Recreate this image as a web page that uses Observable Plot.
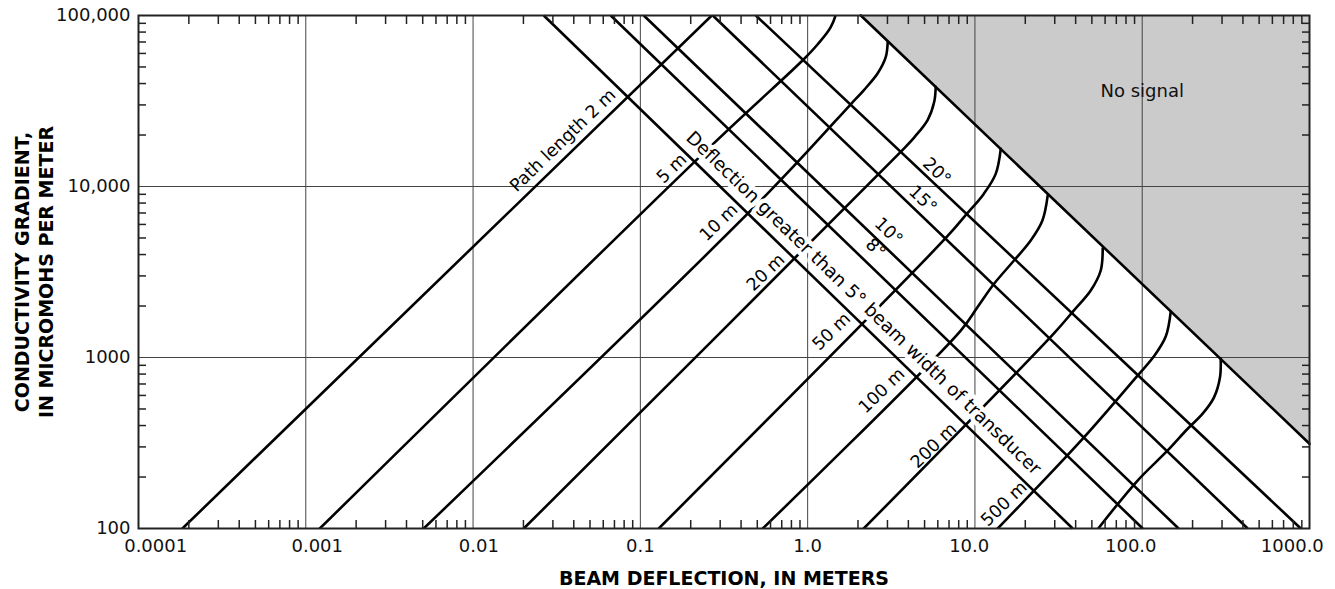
<!DOCTYPE html>
<html>
<head>
<meta charset="utf-8">
<script src="https://cdn.jsdelivr.net/npm/d3@7"></script>
<script src="https://cdn.jsdelivr.net/npm/@observablehq/plot@0.6"></script>
<style>
  body { margin: 0; background: #fff; }
  #chart svg { display: block; }
</style>
</head>
<body>
<div id="chart"></div>
<script>
// ---------- axis ticks ----------
const xTickValues = [0.0001, 0.001, 0.01, 0.1, 1, 10, 100, 1000];
const xTickLabels = ["0.0001", "0.001", "0.01", "0.1", "1.0", "10.0", "100.0", "1000.0"];
const yTickValues = [100, 1000, 10000, 100000];
const yTickLabels = ["100", "1000", "10,000", "100,000"];
const xGrid = [0.001, 0.01, 0.1, 1, 10, 100];
const yGrid = [1000, 10000];

// ---------- path-length curves (beam deflection m, conductivity gradient) ----------
const path2m = [[0.000183, 100], [0.2672, 100000]];
const path5m = [[0.001213, 100], [0.2747, 17880], [0.9478, 55480], [1.149, 67920], [1.374, 85420], [1.503, 108900], [1.534, 133300]];
const path10m = [[0.00507, 100], [0.5773, 9112], [1.81, 30250], [2.164, 36530], [2.624, 45930], [2.929, 57010], [3.011, 69770]];
const path20m = [[0.0201, 100], [3.601, 15950], [4.367, 19520], [5.223, 24540], [5.711, 31280], [5.83, 38290]];
const path50m = [[0.1288, 100], [6.785, 5069], [8.933, 6911], [11.29, 9051], [13.31, 11850], [14.27, 16600]];
const path100m = [[0.539, 100], [8.225, 1437], [10.35, 1967], [13.01, 2697], [17.13, 3693], [21.55, 4835], [25.32, 6331], [27.24, 8869]];
const path200m = [[2.164, 100], [29.58, 1380], [38.96, 1882], [49.23, 2464], [56.49, 3227], [58.06, 4340]];
const path500m = [[13.69, 100], [44.7, 339.6], [92.7, 773], [117.2, 1012], [138.2, 1326], [148.1, 1857]];
const path1000m = [[54.6, 100], [93.6, 190.2], [141.5, 285], [186.3, 381.9], [229, 467.6], [268.7, 584.8], [291.7, 765.7], [294.5, 985.4]];

const pathLabels = ["Path length 2 m", "5 m", "10 m", "20 m", "50 m", "100 m", "200 m", "500 m"];
const pathLabelX = [0.0344, 0.154, 0.294, 0.562, 1.39, 2.77, 5.67, 14.9];
const pathLabelY = [18620, 12760, 6164, 3142, 1418, 640, 305, 139.5];

// ---------- beam-angle lines (x at top = 100,000 and at bottom = 100) ----------
const angleNames = ["5°", "8°", "10°", "15°", "20°"];
const angleTopX = [0.02646, 0.0665, 0.1048, 0.271, 0.49];
const angleBottomX = [38.4, 100.7, 165, 427, 887];

const angleLabels = ["8°", "10°", "15°", "20°"];
const angleLabelX = [2.55, 3.05, 4.88, 5.91];
const angleLabelY = [4340, 5460, 8400, 12250];

const beamLabel = ["Deflection greater than 5° beam width of transducer"];
const beamLabelX = [2.16];
const beamLabelY = [2080];

// ---------- no-signal boundary ----------
const noSignalEdge = [[2.08, 100000], [1000, 313]];
const noSignalText = ["No signal"];
const noSignalX = [100];
const noSignalY = [36000];

// ---------- derived tables ----------
const decadesX = [0.0001, 0.001, 0.01, 0.1, 1, 10, 100];
const decadesY = [100, 1000, 10000];
const mult = [2, 3, 4, 5, 6, 7, 8, 9];
const xMinor = decadesX.flatMap(d => mult.map(k => +(k * d).toPrecision(6)));
const yMinor = decadesY.flatMap(d => mult.map(k => k * d));

const pathLines = [path2m, path5m, path10m, path20m, path50m, path100m, path200m, path500m, path1000m];
const angleTable = angleNames.map((n, i) => ({n, x1: angleTopX[i], x2: angleBottomX[i]}));

const LINE = {stroke: "#000", strokeWidth: 2.6, curve: "catmull-rom", clip: true};
const TICK = {stroke: "#222", strokeWidth: 1.5, tickSize: 8, tickFormat: () => "", label: null};

const marks = [
  // shaded no-signal region
  Plot.areaY(noSignalEdge, {x: d => d[0], y1: d => d[1], y2: 100000, fill: "#cbcbcb"}),
  // grid
  Plot.ruleX(xGrid, {stroke: "#444", strokeWidth: 1}),
  Plot.ruleY(yGrid, {stroke: "#444", strokeWidth: 1}),
  // path-length curves
  ...pathLines.map(p => Plot.line(p, {x: d => d[0], y: d => d[1], ...LINE})),
  // beam-angle lines
  Plot.link(angleTable, {x1: "x1", y1: 100000, x2: "x2", y2: 100, stroke: "#000", strokeWidth: 2.6}),
  Plot.line(noSignalEdge, {x: d => d[0], y: d => d[1], stroke: "#000", strokeWidth: 2.6}),
  // labels
  Plot.text(beamLabel, {x: beamLabelX, y: beamLabelY, text: d => d, rotate: 44, fontSize: 18.4,
    fill: "#000", stroke: "white", strokeWidth: 9}),
  Plot.text(pathLabels, {x: pathLabelX, y: pathLabelY, text: d => d, rotate: -44, fontSize: 17.5, fill: "#000"}),
  Plot.text(angleLabels, {x: angleLabelX, y: angleLabelY, text: d => d, rotate: 44, fontSize: 17.5, fill: "#000"}),
  Plot.text(noSignalText, {x: noSignalX, y: noSignalY, text: d => d, fontSize: 18, fill: "#111"}),
  // frame
  Plot.frame({stroke: "#222", strokeWidth: 2}),
  // inward minor ticks on all sides
  Plot.axisX({anchor: "bottom", ticks: xMinor, dy: -8, ...TICK}),
  Plot.axisX({anchor: "top", ticks: xMinor, dy: 8, ...TICK}),
  Plot.axisY({anchor: "left", ticks: yMinor, dx: 8, ...TICK}),
  Plot.axisY({anchor: "right", ticks: yMinor, dx: -8, ...TICK}),
  // y tick labels
  Plot.axisY({anchor: "left", ticks: yTickValues, tickSize: 0, tickPadding: 8, fontSize: 18,
    tickFormat: d => yTickLabels[yTickValues.indexOf(d)], label: null, fill: "#111"}),
  // x tick labels, decimal point centred on the tick
  Plot.text(xTickValues, {x: d => d, text: (d, i) => xTickLabels[i].split(".")[0], frameAnchor: "bottom",
    textAnchor: "end", lineAnchor: "middle", dx: -2.86, dy: 18, fontSize: 18, fill: "#111"}),
  Plot.text(xTickValues, {x: d => d, text: (d, i) => "." + xTickLabels[i].split(".")[1], frameAnchor: "bottom",
    textAnchor: "start", lineAnchor: "middle", dx: -2.86, dy: 18, fontSize: 18, fill: "#111"}),
  // axis titles
  Plot.text(["BEAM DEFLECTION, IN METERS"], {frameAnchor: "bottom", dy: 50, text: d => d,
    textAnchor: "middle", lineAnchor: "middle", fontSize: 19, fontWeight: "bold", fill: "#000"}),
  Plot.text(["CONDUCTIVITY GRADIENT,\nIN MICROMOHS PER METER"], {frameAnchor: "left", dx: -105.5, text: d => d,
    textAnchor: "middle", lineAnchor: "middle", rotate: -90, fontSize: 19, fontWeight: "bold", lineHeight: 1.3, fill: "#000"})
];

const chart = Plot.plot({
  width: 1335,
  height: 589,
  marginTop: 15,
  marginRight: 26,
  marginBottom: 61,
  marginLeft: 138,
  x: {type: "log", domain: [0.0001, 1000]},
  y: {type: "log", domain: [100, 100000]},
  style: {fontFamily: "DejaVu Sans", fontSize: "18px", background: "#fff", color: "#111"},
  marks
});
document.getElementById("chart").append(chart);
</script>
</body>
</html>
